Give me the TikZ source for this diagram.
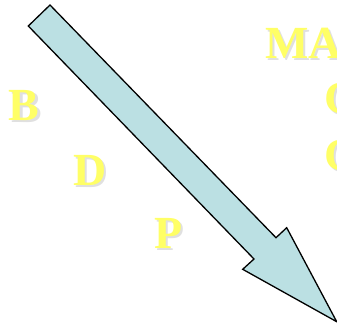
\documentclass[tikz,border=0pt]{standalone}
\usepackage{fontspec}
\setmainfont{Liberation Serif}
\definecolor{arrowfill}{HTML}{BBE0E3}
\definecolor{lbl}{HTML}{FFFF66}
\begin{document}
\begin{tikzpicture}[x=1pt,y=-1pt,
  lettr/.style={anchor=base west,inner sep=0pt,outer sep=0pt,text=lbl,font=\fontsize{46}{46}\selectfont\bfseries},
  shadowtxt/.style={anchor=base west,inner sep=0pt,outer sep=0pt,text=black!12,font=\fontsize{46}{46}\selectfont\bfseries}]
\useasboundingbox (0,0) rectangle (337,325);
\clip (0,0) rectangle (337,325);
% shadows
\node[shadowtxt] at (11,122) {B};
\node[shadowtxt] at (75,187) {D};
\node[shadowtxt] at (156,250) {P};
\node[shadowtxt] at (267,60) {MA};
\node[shadowtxt] at (326,115) {C};
\node[shadowtxt] at (326,172) {C};
% letters
\node[lettr] (b) at (9,120) {B};
\node[lettr] (d) at (73,185) {D};
\node[lettr] (p) at (154,248) {P};
\node[lettr] (ma) at (265,58) {MA};
\node[lettr] (c1) at (324,113) {C};
\node[lettr] (c2) at (324,170) {C};
% arrow
\draw[fill=arrowfill,line width=1.3pt,line join=miter]
  (50,5) -- (28.3,26) -- (254,259) -- (242.7,269.3) -- (336.7,321.7)
  -- (286.7,227.7) -- (276,237.7) -- cycle;
\end{tikzpicture}
\end{document}
